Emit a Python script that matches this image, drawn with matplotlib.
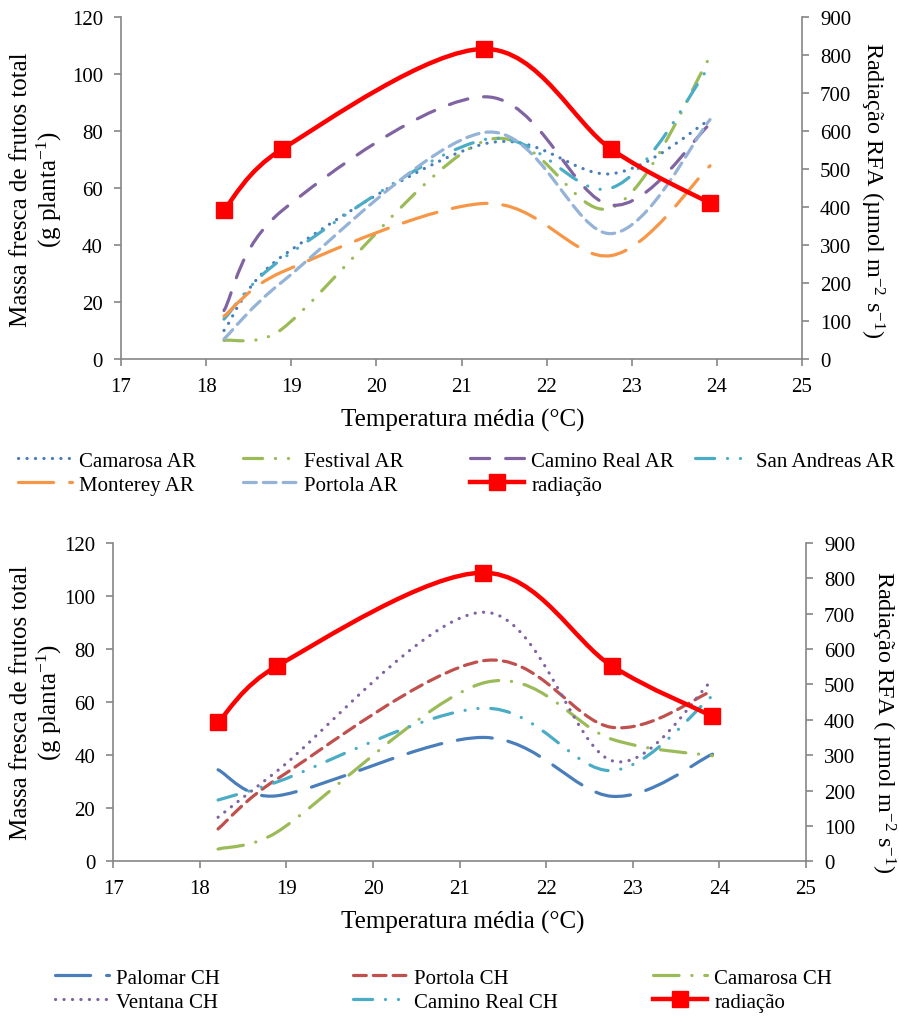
import numpy as np
import matplotlib
matplotlib.use('Agg')
import matplotlib.pyplot as plt
from matplotlib.path import Path
from matplotlib.patches import PathPatch
from matplotlib.lines import Line2D

plt.rcParams['font.family'] = ['Liberation Serif', 'DejaVu Serif']
plt.rcParams['mathtext.fontset'] = 'custom'
plt.rcParams['mathtext.rm'] = 'Liberation Serif'
plt.rcParams['mathtext.it'] = 'Liberation Serif:italic'

# temperature (x) and radiation (right axis)
temp = [18.21, 18.89, 21.27, 22.76, 23.92]
radiacao = [393, 552, 816, 552, 410]

# top panel (AR)
camarosa_ar = [10, 36, 75.5, 65, 84]
festival_ar = [6.5, 10.5, 76.5, 53, 106]
camino_real_ar = [17, 52, 92, 54, 82.5]
san_andreas_ar = [14, 35, 77, 60, 103]
monterey_ar = [15, 30.5, 54.6, 36.3, 67.8]
portola_ar = [7, 27, 79.5, 44, 84]

# bottom panel (CH)
palomar_ch = [34.5, 24.7, 46.7, 24.5, 40.4]
portola_ch = [12.2, 31, 75.6, 50.5, 64.3]
camarosa_ch = [4.6, 11, 67.2, 46, 39.8]
ventana_ch = [16.6, 34, 93.9, 37.9, 68.3]
camino_real_ch = [23.1, 29.9, 57.7, 34.2, 62.4]

GRAY = '#868686'
BLUE = '#4A7EBB'
RED2 = '#C0504D'
GREEN = '#9BBB59'
PURPLE = '#8064A2'
TEAL = '#4BACC6'
ORANGE = '#F79646'
LBLUE = '#95B3D7'

DOT = (0, (0.05, 2.6))
DASHDOTDOT = (0, (6, 4, 0.05, 4, 0.05, 4))
LONGDASH = (0, (11, 5))
DASH = (0, (6, 5))
SQDASH = (0, (4, 2.2))
LONGDASHDOT = (0, (8, 4, 0.05, 4))


def smooth_path(ax, x, y):
    # excel-like smoothing, built in screen space so segment lengths are real
    pts = ax.transData.transform(np.column_stack([x, y]).astype(float))
    n = len(pts)
    verts = [pts[0]]
    codes = [Path.MOVETO]
    for i in range(n - 1):
        p0 = pts[max(i - 1, 0)]
        p1 = pts[i]
        p2 = pts[i + 1]
        p3 = pts[min(i + 2, n - 1)]
        half = np.hypot(*(p2 - p1)) / 2
        v1 = (p2 - p0) / 6
        v2 = (p3 - p1) / 6
        if np.hypot(*v1) > half:
            v1 = v1 * half / np.hypot(*v1)
        if np.hypot(*v2) > half:
            v2 = v2 * half / np.hypot(*v2)
        verts += [p1 + v1, p2 - v2, p2]
        codes += [Path.CURVE4] * 3
    verts = ax.transData.inverted().transform(np.array(verts))
    return Path(verts, codes)


def curve(ax, y, color, ls, lw=2.3, label=None):
    patch = PathPatch(smooth_path(ax, temp, y), fill=False, edgecolor=color,
                      lw=lw, linestyle=ls, capstyle='round', joinstyle='round')
    ax.add_patch(patch)
    return Line2D([], [], color=color, lw=lw, linestyle=ls,
                  dash_capstyle='round', solid_capstyle='round', label=label)


def style(ax, ax2):
    ax.set_xlim(17, 25)
    ax.set_ylim(0, 120)
    ax.set_xticks(range(17, 26))
    ax.set_yticks(range(0, 121, 20))
    ax2.set_ylim(0, 900)
    ax2.set_yticks(range(0, 901, 100))
    for a in (ax, ax2):
        for s in a.spines.values():
            s.set_color(GRAY)
            s.set_linewidth(1.2)
        a.spines['top'].set_visible(False)
        a.tick_params(direction='out', length=5, width=1.2, color=GRAY,
                      labelsize=15, pad=8)
    ax2.spines['left'].set_visible(False)
    ax2.spines['bottom'].set_visible(False)
    ax.spines['right'].set_visible(False)
    ax.patch.set_visible(False)
    ax2.patch.set_visible(False)


def rad(ax2):
    ax2.add_patch(PathPatch(smooth_path(ax2, temp, radiacao), fill=False,
                            edgecolor='red', lw=3.2, capstyle='round',
                            joinstyle='round'))
    ax2.plot(temp, radiacao, linestyle='none', marker='s', markersize=11,
             color='red')
    return Line2D([], [], color='red', lw=3.2, marker='s', markersize=11,
                  label='radiação')


def col_legend(fig, handles, x, y):
    fig.legend(handles=handles, loc='upper left',
               bbox_to_anchor=(x / 899, 1 - y / 1020), frameon=False,
               fontsize=15, handlelength=2.6, handletextpad=0.35,
               borderpad=0, borderaxespad=0, labelspacing=0.22, numpoints=1)


fig = plt.figure(figsize=(8.99, 10.2), dpi=100)

# ---- top panel
ax1 = fig.add_axes([121 / 899, 1 - 360 / 1020, 681 / 899, 342 / 1020])
ax1b = ax1.twinx()
style(ax1, ax1b)
h_cam = curve(ax1, camarosa_ar, BLUE, DOT, label='Camarosa AR')
h_fes = curve(ax1, festival_ar, GREEN, DASHDOTDOT, label='Festival AR')
h_cre = curve(ax1, camino_real_ar, PURPLE, DASH, label='Camino Real AR')
h_san = curve(ax1, san_andreas_ar, TEAL, DASHDOTDOT, label='San Andreas AR')
h_mon = curve(ax1, monterey_ar, ORANGE, LONGDASH, label='Monterey AR')
h_por = curve(ax1, portola_ar, LBLUE, SQDASH, label='Portola AR')
h_rad = rad(ax1b)

fig.text(37 / 899, 1 - 190 / 1020,
         'Massa fresca de frutos total\n(g planta$^{-1}$)',
         rotation=90, ha='center', va='center', fontsize=18,
         multialignment='center', linespacing=1.15)
fig.text(872 / 899, 1 - 190 / 1020, 'Radiação RFA (µmol m$^{-2}$ s$^{-1}$)',
         rotation=270, ha='center', va='center', fontsize=17.5)
fig.text(463 / 899, 1 - 420 / 1020, 'Temperatura média (°C)',
         ha='center', va='center', fontsize=18)

col_legend(fig, [h_cam, h_mon], 18, 452)
col_legend(fig, [h_fes, h_por], 243, 452)
col_legend(fig, [h_cre, h_rad], 470, 452)
col_legend(fig, [h_san], 695, 452)

# ---- bottom panel
ax2 = fig.add_axes([113.3 / 899, 1 - 862.3 / 1020, 692.7 / 899, 318.3 / 1020])
ax2b = ax2.twinx()
style(ax2, ax2b)
g_pal = curve(ax2, palomar_ch, BLUE, LONGDASH, label='Palomar CH')
g_por = curve(ax2, portola_ch, RED2, SQDASH, label='Portola CH')
g_cam = curve(ax2, camarosa_ch, GREEN, LONGDASHDOT, label='Camarosa CH')
g_ven = curve(ax2, ventana_ch, PURPLE, DOT, label='Ventana CH')
g_cre = curve(ax2, camino_real_ch, TEAL, DASHDOTDOT, label='Camino Real CH')
g_rad = rad(ax2b)

fig.text(37 / 899, 1 - 703 / 1020,
         'Massa fresca de frutos total\n(g planta$^{-1}$)',
         rotation=90, ha='center', va='center', fontsize=18,
         multialignment='center', linespacing=1.15)
fig.text(883 / 899, 1 - 722 / 1020, 'Radiação RFA ( µmol m$^{-2}$ s$^{-1}$)',
         rotation=270, ha='center', va='center', fontsize=17.5)
fig.text(463 / 899, 1 - 922 / 1020, 'Temperatura média (°C)',
         ha='center', va='center', fontsize=18)

col_legend(fig, [g_pal, g_ven], 55, 969)
col_legend(fig, [g_por, g_cre], 353, 969)
col_legend(fig, [g_cam, g_rad], 653, 969)

fig.savefig('out.png', dpi=100)
